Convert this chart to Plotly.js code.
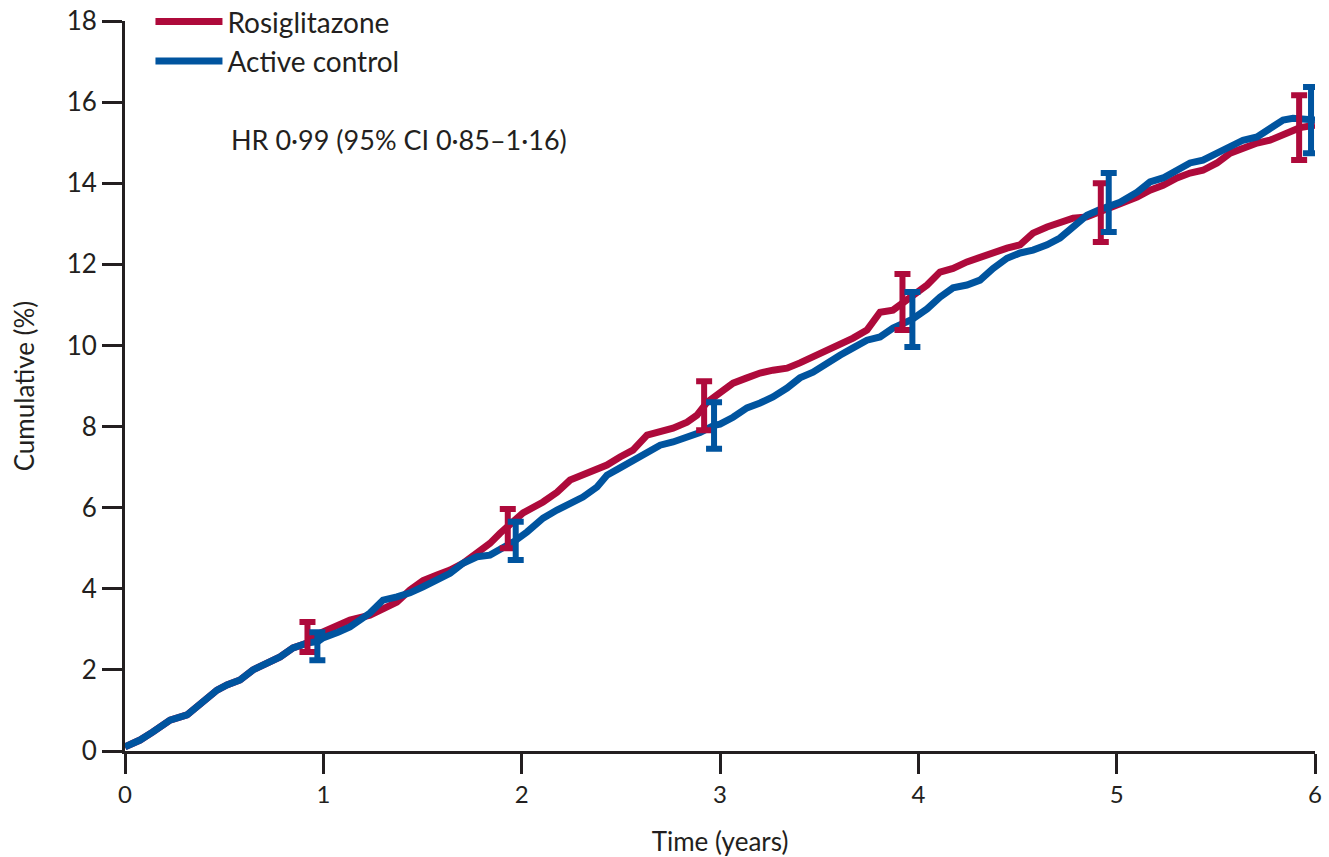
<!DOCTYPE html>
<html>
<head>
<meta charset="utf-8">
<script src="https://cdn.plot.ly/plotly-3.0.1.min.js"></script>
<style>html,body{margin:0;padding:0;background:#fff;}#chart{width:1329px;height:857px;}</style>
</head>
<body>
<div id="chart"></div>
<script>
// Time (years) and cumulative incidence (%)
const rosiTime = [0,0.076,0.141,0.227,0.313,0.378,0.464,0.514,0.580,0.645,0.716,0.782,0.847,0.918,0.958,0.998,1.074,1.134,1.235,1.301,1.371,1.437,1.503,1.573,1.639,1.704,1.775,1.840,1.891,1.941,2.007,2.108,2.178,2.244,2.309,2.380,2.430,2.496,2.561,2.632,2.698,2.763,2.834,2.884,2.935,3.000,3.066,3.136,3.202,3.267,3.338,3.403,3.469,3.540,3.605,3.671,3.741,3.807,3.872,3.933,3.983,4.044,4.109,4.175,4.245,4.311,4.377,4.447,4.513,4.578,4.649,4.714,4.780,4.850,4.916,4.966,5.017,5.103,5.168,5.234,5.304,5.370,5.435,5.506,5.572,5.637,5.708,5.773,5.839,5.889,5.924,6.0];
const rosiValue = [0.1,0.27,0.47,0.76,0.89,1.13,1.5,1.63,1.75,2.0,2.17,2.32,2.54,2.66,2.85,2.93,3.1,3.23,3.35,3.52,3.67,3.97,4.2,4.34,4.46,4.63,4.9,5.12,5.37,5.6,5.87,6.14,6.38,6.68,6.8,6.93,7.05,7.25,7.42,7.79,7.87,7.96,8.11,8.28,8.6,8.83,9.07,9.2,9.32,9.39,9.44,9.57,9.71,9.89,10.0,10.18,10.38,10.82,10.87,11.1,11.3,11.49,11.81,11.9,12.06,12.18,12.3,12.4,12.48,12.77,12.92,13.02,13.14,13.17,13.3,13.4,13.46,13.66,13.83,13.95,14.13,14.25,14.32,14.5,14.74,14.87,14.99,15.06,15.19,15.31,15.37,15.43];

const ctrlTime = [0,0.076,0.141,0.227,0.313,0.378,0.464,0.514,0.580,0.645,0.716,0.782,0.847,0.918,0.973,0.998,1.074,1.134,1.235,1.301,1.371,1.437,1.503,1.573,1.639,1.704,1.775,1.840,1.891,1.966,2.027,2.108,2.178,2.244,2.309,2.380,2.430,2.496,2.561,2.632,2.698,2.763,2.834,2.899,2.970,3.000,3.066,3.136,3.202,3.267,3.338,3.403,3.469,3.540,3.605,3.671,3.741,3.807,3.872,3.968,4.044,4.109,4.175,4.245,4.311,4.377,4.447,4.513,4.578,4.649,4.714,4.780,4.850,4.916,4.961,5.017,5.103,5.168,5.234,5.304,5.370,5.435,5.506,5.572,5.637,5.708,5.773,5.839,5.889,6.0];
const ctrlValue = [0.1,0.27,0.47,0.76,0.89,1.13,1.5,1.63,1.75,2.0,2.17,2.32,2.54,2.66,2.7,2.79,2.93,3.06,3.4,3.72,3.8,3.9,4.05,4.2,4.38,4.63,4.79,4.83,4.96,5.18,5.4,5.74,5.94,6.11,6.26,6.51,6.8,6.98,7.17,7.37,7.54,7.62,7.72,7.85,8.03,8.06,8.23,8.46,8.58,8.73,8.95,9.2,9.34,9.57,9.76,9.94,10.13,10.21,10.43,10.64,10.9,11.19,11.42,11.49,11.61,11.9,12.15,12.28,12.35,12.48,12.65,12.92,13.21,13.35,13.45,13.53,13.78,14.03,14.13,14.32,14.5,14.57,14.74,14.94,15.06,15.14,15.36,15.56,15.6,15.56];

// 95% CI bars at yearly points
const rosiCITime = [0.92,1.93,2.92,3.92,4.92,5.92];
const rosiCIMid  = [2.8,5.45,8.5,11.05,13.28,15.37];
const rosiCILow  = [2.44,5.0,7.91,10.38,12.55,14.57];
const rosiCIHigh = [3.18,5.97,9.12,11.76,14.0,16.17];

const ctrlCITime = [0.97,1.97,2.97,3.97,4.96,5.98];
const ctrlCIMid  = [2.6,5.18,8.03,10.64,13.52,15.56];
const ctrlCILow  = [2.24,4.71,7.45,9.96,12.8,14.74];
const ctrlCIHigh = [2.93,5.65,8.6,11.32,14.25,16.37];

const xTicks = [0,1,2,3,4,5,6];
const yTicks = [0,2,4,6,8,10,12,14,16,18];

const RED = '#AE0A3B', BLUE = '#00549F', INK = '#231f20';
const FONT = 'Lato, "Open Sans", sans-serif';

function ciTrace(t, mid, lo, hi, color) {
  return {
    x: t, y: mid, type: 'scatter', mode: 'markers', showlegend: false, hoverinfo: 'skip',
    marker: {size: 1, opacity: 0, color: color},
    error_y: {type: 'data', symmetric: false,
      array: hi.map((h, i) => h - mid[i]),
      arrayminus: lo.map((l, i) => mid[i] - l),
      color: color, thickness: 6, width: 8}
  };
}

const traces = [
  {x: rosiTime, y: rosiValue, type: 'scatter', mode: 'lines', name: 'Rosiglitazone',
   line: {color: RED, width: 7, shape: 'linear'}},
  {x: ctrlTime, y: ctrlValue, type: 'scatter', mode: 'lines', name: 'Active control',
   line: {color: BLUE, width: 7, shape: 'linear'}},
  ciTrace(rosiCITime, rosiCIMid, rosiCILow, rosiCIHigh, RED),
  ciTrace(ctrlCITime, ctrlCIMid, ctrlCILow, ctrlCIHigh, BLUE)
];

const layout = {
  width: 1329, height: 857,
  margin: {l: 125, r: 14, t: 21, b: 106, autoexpand: false},
  paper_bgcolor: '#fff', plot_bgcolor: '#fff',
  font: {family: FONT, size: 28, color: INK},
  showlegend: true,
  legend: {x: 0.0214, y: 1.033, xanchor: 'left', yanchor: 'top',
    font: {family: FONT, size: 28, color: INK}, bgcolor: 'rgba(0,0,0,0)',
    itemwidth: 67, tracegroupgap: 0},
  xaxis: {range: [0, 6], tickvals: xTicks, ticktext: xTicks.map(String), automargin: false,
    showgrid: false, zeroline: false, showline: true, linecolor: INK, linewidth: 3,
    ticks: 'outside', ticklen: 20, tickwidth: 3, tickcolor: INK,
    tickfont: {family: FONT, size: 24, color: INK},
    title: {text: 'Time (years)', font: {family: FONT, size: 26, color: INK}, standoff: 27}},
  yaxis: {range: [0, 18], tickvals: yTicks, ticktext: yTicks.map(String), automargin: false,
    showgrid: false, zeroline: false, showline: true, linecolor: INK, linewidth: 3,
    ticks: 'outside', ticklen: 20, tickwidth: 3, tickcolor: INK,
    tickfont: {family: FONT, size: 26, color: INK},
    title: {text: 'Cumulative (%)', font: {family: FONT, size: 26, color: INK}, standoff: 25}},
  annotations: [{
    xref: 'paper', yref: 'paper', x: 0.0875, y: 0.837, xanchor: 'left', yanchor: 'middle',
    showarrow: false, text: 'HR 0·99 (95% CI 0·85–1·16)',
    font: {family: FONT, size: 27, color: INK}
  }]
};

Plotly.newPlot('chart', traces, layout, {displayModeBar: false, staticPlot: true});
</script>
</body>
</html>
